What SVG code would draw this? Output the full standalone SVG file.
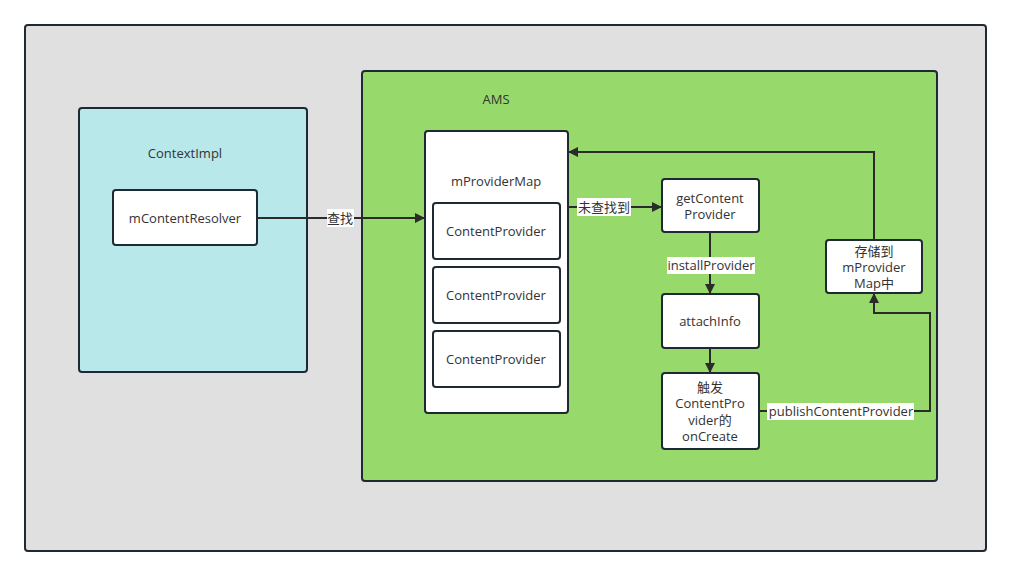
<svg xmlns="http://www.w3.org/2000/svg" width="1011" height="576" viewBox="0 0 1011 576">
<defs>
<marker id="arr" markerWidth="10" markerHeight="10" refX="9" refY="5" orient="auto" markerUnits="userSpaceOnUse">
<path d="M0,0 L10,5 L0,10 Z" fill="#2b2b2b"/>
</marker>
<style>
.box{stroke:#1f2933;stroke-width:2}
.node{fill:#ffffff;stroke:#1f2933;stroke-width:2}
.t{font-family:"Open Sans","Noto Sans","Noto Sans CJK SC",sans-serif;font-size:13px;fill:#333333;text-anchor:middle;dominant-baseline:central}
.conn{fill:none;stroke:#2b2b2b;stroke-width:2}
.lbl{fill:#ffffff}
</style>
</defs>
<rect width="1011" height="576" fill="#ffffff"/>
<g id="outer"><rect class="box" x="25" y="25" width="961" height="526" rx="3" fill="#e0e0e0"/></g>
<g id="contextimpl"><rect class="box" x="79" y="108" width="228" height="264" rx="3" fill="#b8e8ea"/><text class="t" x="185" y="153">ContextImpl</text></g>
<g id="ams"><rect class="box" x="362" y="71" width="575" height="410" rx="3" fill="#97d96a"/><text class="t" x="496" y="99">AMS</text></g>
<g id="mContentResolver"><rect class="node" x="113" y="190" width="144" height="55" rx="3"/><text class="t" x="185" y="218">mContentResolver</text></g>
<g id="mProviderMap"><rect class="node" x="425" y="131" width="143" height="282" rx="3"/><text class="t" x="496" y="181">mProviderMap</text></g>
<g id="cp1"><rect class="node" x="433" y="203" width="127" height="56" rx="3"/><text class="t" x="496" y="231">ContentProvider</text></g>
<g id="cp2"><rect class="node" x="433" y="267" width="127" height="56" rx="3"/><text class="t" x="496" y="295">ContentProvider</text></g>
<g id="cp3"><rect class="node" x="433" y="331" width="127" height="56" rx="3"/><text class="t" x="496" y="359">ContentProvider</text></g>
<g id="getContentProvider"><rect class="node" x="662" y="179" width="97" height="53" rx="3"/><text class="t" x="710" y="198">getContent</text><text class="t" x="710" y="214">Provider</text></g>
<g id="attachInfo"><rect class="node" x="662" y="294" width="97" height="54" rx="3"/><text class="t" x="710" y="321">attachInfo</text></g>
<g id="onCreate"><rect class="node" x="662" y="373" width="97" height="76" rx="3"/><text class="t" x="710" y="387">触发</text><text class="t" x="710" y="403">ContentPro</text><text class="t" x="710" y="420">vider的</text><text class="t" x="710" y="436">onCreate</text></g>
<g id="store"><rect class="node" x="826" y="240" width="96" height="53" rx="3"/><text class="t" x="874" y="251">存储到</text><text class="t" x="874" y="267">mProvider</text><text class="t" x="874" y="283">Map中</text></g>
<g id="connectors">
<path class="conn" d="M257,218 L424,218" marker-end="url(#arr)"/>
<rect class="lbl" x="327" y="209" width="27" height="18"/><text class="t" x="340" y="218">查找</text>
<path class="conn" d="M568,207 L661,207" marker-end="url(#arr)"/>
<rect class="lbl" x="577" y="198" width="54" height="18"/><text class="t" x="604" y="207">未查找到</text>
<path class="conn" d="M710,232 L710,293" marker-end="url(#arr)"/>
<rect class="lbl" x="667" y="257" width="88" height="17"/><text class="t" x="711" y="265">installProvider</text>
<path class="conn" d="M710,348 L710,372" marker-end="url(#arr)"/>
<path class="conn" d="M759,411 L930,411 L930,313 L874,313 L874,294" marker-end="url(#arr)"/>
<rect class="lbl" x="767" y="403" width="147" height="17"/><text class="t" x="841" y="411">publishContentProvider</text>
<path class="conn" d="M874,240 L874,152 L569,152" marker-end="url(#arr)"/>
</g>
</svg>
